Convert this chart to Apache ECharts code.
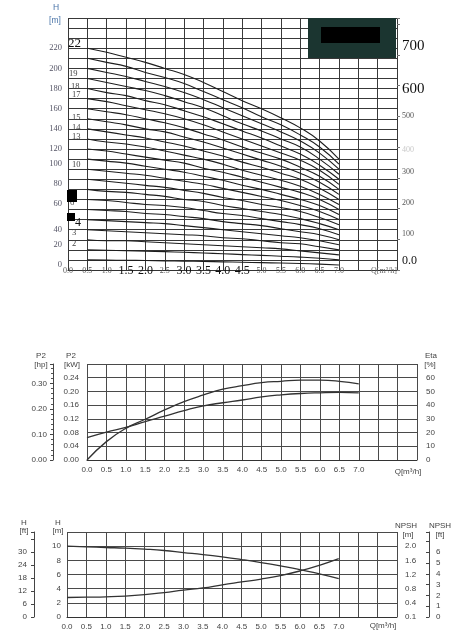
<!DOCTYPE html>
<html>
<head>
<meta charset="utf-8">
<script src="https://cdn.jsdelivr.net/npm/echarts@6/dist/echarts.min.js"></script>
<style>
html, body { margin: 0; padding: 0; background: #fff; }
#chart { width: 463px; height: 638px; }
</style>
</head>
<body>
<div id="chart"></div>
<script>
// 流量 Q [m³/h]
var qTop = [0.5, 1.0, 1.5, 2.0, 2.5, 3.0, 3.5, 4.0, 4.5, 5.0, 5.5, 6.0, 6.5, 7.0];
var qCurve = [0, 0.5, 1.0, 1.5, 2.0, 2.5, 3.0, 3.5, 4.0, 4.5, 5.0, 5.5, 6.0, 6.5, 7.0];

// 多级扬程曲线 H [m]，按级数
var h1 = [10.0, 9.8, 9.6, 9.4, 9.1, 8.8, 8.5, 8.1, 7.7, 7.3, 6.9, 6.4, 5.8, 5.0];
var h2 = [20.0, 19.6, 19.2, 18.7, 18.2, 17.6, 16.9, 16.1, 15.3, 14.5, 13.7, 12.8, 11.6, 10.0];
var h3 = [30, 29, 29, 28, 27, 26, 25, 24, 23, 22, 21, 19, 17, 15];
var h4 = [40, 39, 38, 37, 36, 35, 34, 32, 31, 29, 27, 26, 23, 20];
var h5 = [50, 49, 48, 47, 46, 44, 42, 40, 38, 36, 34, 32, 29, 25];
var h6 = [60, 59, 58, 56, 55, 53, 51, 48, 46, 44, 41, 38, 35, 30];
var h7 = [70, 69, 67, 65, 64, 62, 59, 56, 54, 51, 48, 45, 41, 35];
var h8 = [80, 78, 77, 75, 73, 70, 68, 64, 61, 58, 55, 51, 46, 40];
var h9 = [90, 88, 86, 84, 82, 79, 76, 72, 69, 65, 62, 58, 52, 45];
var h10 = [100, 98, 96, 94, 91, 88, 85, 81, 77, 73, 69, 64, 58, 50];
var h11 = [110, 108, 106, 103, 100, 97, 93, 89, 84, 80, 75, 70, 64, 55];
var h12 = [120, 118, 115, 112, 109, 106, 101, 97, 92, 87, 82, 77, 70, 60];
var h13 = [130, 127, 125, 122, 118, 114, 110, 105, 99, 94, 89, 83, 75, 65];
var h14 = [140, 137, 134, 131, 127, 123, 118, 113, 107, 102, 96, 90, 81, 70];
var h15 = [150, 147, 144, 140, 137, 132, 127, 121, 115, 109, 103, 96, 87, 75];
var h16 = [160, 157, 154, 150, 146, 141, 135, 129, 122, 116, 110, 102, 93, 80];
var h17 = [170, 167, 163, 159, 155, 150, 144, 137, 130, 123, 116, 109, 99, 85];
var h18 = [180, 176, 173, 168, 164, 158, 152, 145, 138, 131, 123, 115, 104, 90];
var h19 = [190, 186, 182, 178, 173, 167, 161, 153, 145, 138, 130, 122, 110, 95];
var h20 = [200, 196, 192, 187, 182, 176, 169, 161, 153, 145, 137, 128, 116, 100];
var h21 = [210, 206, 202, 196, 191, 185, 177, 169, 161, 152, 144, 134, 122, 105];
var h22 = [220, 216, 211, 206, 200, 194, 186, 177, 168, 160, 151, 141, 128, 110];
var stageCurves = [h1, h2, h3, h4, h5, h6, h7, h8, h9, h10, h11, h12, h13, h14, h15, h16, h17, h18, h19, h20, h21, h22];

// 功率 / 效率
var p2kW = [0.065, 0.081, 0.095, 0.112, 0.128, 0.144, 0.158, 0.167, 0.175, 0.184, 0.190, 0.194, 0.196, 0.197, 0.196];
var etaPct = [0, 13.4, 23.1, 29.7, 36.5, 42.6, 47.4, 51.6, 54.2, 56.4, 57.4, 58.2, 58.2, 57.4, 55.5];

// 单级扬程 / NPSH
var headM = [10.0, 9.91, 9.81, 9.72, 9.58, 9.39, 9.10, 8.82, 8.49, 8.11, 7.69, 7.22, 6.70, 6.08, 5.42];
var npshM = [0.55, 0.56, 0.57, 0.59, 0.63, 0.69, 0.76, 0.82, 0.91, 0.99, 1.07, 1.17, 1.30, 1.46, 1.65];

// 刻度标签
var bigQLabels = ['1.5', '2.0', '3.0', '3.5', '4.0', '4.5'];
var bigFtLabels = [600, 700];
var raisedHLabels = [0, 20, 60, 80, 100];

function pairs(xs, ys) {
    return xs.map(function (x, i) { return [x, ys[i]]; });
}

var serif = '"Liberation Serif", "DejaVu Serif", serif';
var sans = '"Liberation Sans", Arial, sans-serif';
var gridColor = '#4a4a4a';

function qAxis(gridIndex, top) {
    return {
        type: 'value', gridIndex: gridIndex, min: 0, max: 8.5, interval: 0.5,
        axisLine: { show: true, lineStyle: { color: '#333', width: 1 } },
        axisTick: { show: false },
        splitLine: { show: true, lineStyle: { color: top ? '#383838' : gridColor, width: 1 } },
        axisLabel: top ? {
            margin: 1, verticalAlign: 'middle', fontFamily: serif, fontSize: 8, color: '#555',
            formatter: function (v) {
                if (v > 7) return '';
                var s = v.toFixed(1);
                return bigQLabels.indexOf(s) >= 0 ? '{b|' + s + '}' : s;
            },
            rich: { b: { fontFamily: serif, fontSize: 12, color: '#111' } }
        } : {
            margin: 6, fontFamily: sans, fontSize: 8, color: '#444',
            formatter: function (v) { return v > 7 ? '' : v.toFixed(1); }
        }
    };
}

var series = [];
stageCurves.forEach(function (h, i) {
    series.push({
        name: (i + 1) + '级', type: 'line', xAxisIndex: 0, yAxisIndex: 0,
        data: pairs(qTop, h), smooth: true, symbol: 'none', silent: true,
        lineStyle: { color: '#1e1e1e', width: 1.1 }
    });
});
series.push({
    name: 'P2', type: 'line', xAxisIndex: 1, yAxisIndex: 2, data: pairs(qCurve, p2kW),
    smooth: true, symbol: 'none', lineStyle: { color: '#333', width: 1.3 }
});
series.push({
    name: 'Eta', type: 'line', xAxisIndex: 1, yAxisIndex: 4, data: pairs(qCurve, etaPct),
    smooth: true, symbol: 'none', lineStyle: { color: '#333', width: 1.3 }
});
series.push({
    name: 'H', type: 'line', xAxisIndex: 2, yAxisIndex: 5, data: pairs(qCurve, headM),
    smooth: true, symbol: 'none', lineStyle: { color: '#333', width: 1.3 }
});
series.push({
    name: 'NPSH', type: 'line', xAxisIndex: 2, yAxisIndex: 7, data: pairs(qCurve, npshM),
    smooth: true, symbol: 'none', lineStyle: { color: '#333', width: 1.3 }
});

function txt(text, x, y, opt) {
    opt = opt || {};
    return {
        type: 'text', z: 100,
        style: {
            text: text, x: x, y: y,
            fill: opt.color || '#444',
            fontSize: opt.size || 8,
            fontFamily: opt.font || sans,
            align: opt.align || 'center',
            verticalAlign: 'middle'
        }
    };
}
function box(x, y, w, h, color) {
    return { type: 'rect', z: 110, shape: { x: x, y: y, width: w, height: h }, style: { fill: color } };
}

var chart = echarts.init(document.getElementById('chart'), null, { renderer: 'canvas' });
var option = {
    backgroundColor: '#fff',
    animation: false,
    grid: [
        { left: 68, right: 66, top: 18, bottom: 368, outerBoundsMode: 'none' },
        { left: 87, right: 46, top: 364, bottom: 178, outerBoundsMode: 'none' },
        { left: 67, right: 66, top: 532, bottom: 21, outerBoundsMode: 'none' }
    ],
    xAxis: [qAxis(0, true), qAxis(1, false), qAxis(2, false)],
    yAxis: [
        // 0: 上图 H [m]
        {
            type: 'value', gridIndex: 0, min: 0, max: 250, interval: 10,
            axisLine: { show: false }, axisTick: { show: false },
            splitLine: { show: true, lineStyle: { color: '#383838', width: 1 } },
            axisLabel: {
                margin: 6, fontFamily: serif, fontSize: 8.5, color: '#556',
                formatter: function (v) {
                    if (v % 20 !== 0 || v > 220) return '';
                    return raisedHLabels.indexOf(v) >= 0 ? '{u|' + v + '}' : v;
                },
                rich: { u: { fontFamily: serif, fontSize: 8.5, color: '#556', padding: [0, 0, 11, 0] } }
            }
        },
        // 1: 上图 H [ft]
        {
            type: 'value', gridIndex: 0, position: 'right', min: 0, max: 250 / 0.3048, interval: 100,
            axisLine: { show: false }, axisTick: { show: true, length: 3, lineStyle: { color: '#777' } },
            splitLine: { show: false }, showMaxLabel: false,
            axisLabel: {
                margin: 5, verticalAlign: 'middle', fontFamily: serif, fontSize: 8, color: '#555',
                formatter: function (v) {
                    if (v === 0) return '{z|0.0}';
                    if (v === 600) return '{b6|600}';
                    if (v === 700) return '{b7|700}';
                    if (v === 400) return '{f|400}';
                    if (v === 500) return '{n|500}';
                    if (v > 700) return '';
                    return '{s|' + v + '}';
                },
                rich: {
                    z: { fontFamily: serif, fontSize: 12, color: '#111', padding: [0, 0, 18, 0] },
                    b6: { fontFamily: serif, fontSize: 15, color: '#111', padding: [6, 0, 0, 0] },
                    b7: { fontFamily: serif, fontSize: 15, color: '#111', padding: [0, 0, 18, 0] },
                    f: { fontFamily: serif, fontSize: 8, color: '#c8c8c8', padding: [6, 0, 0, 0] },
                    n: { fontFamily: serif, fontSize: 8, color: '#555' },
                    s: { fontFamily: serif, fontSize: 8, color: '#555', padding: [0, 0, 11, 0] }
                }
            }
        },
        // 2: 中图 P2 [kW]
        {
            type: 'value', gridIndex: 1, min: 0, max: 0.28, interval: 0.04,
            axisLine: { show: false }, axisTick: { show: false },
            splitLine: { show: true, lineStyle: { color: gridColor, width: 1 } },
            axisLabel: {
                margin: 8, fontFamily: sans, fontSize: 8, color: '#444',
                formatter: function (v) { return v > 0.25 ? '' : v.toFixed(2); }
            }
        },
        // 3: 中图 P2 [hp]
        {
            type: 'value', gridIndex: 1, position: 'left', offset: 34, min: 0, max: 0.28 / 0.7457, interval: 0.1,
            axisLine: { show: true, lineStyle: { color: '#444' } },
            axisTick: { show: true, length: 3, lineStyle: { color: '#444' } },
            minorTick: { show: true, splitNumber: 5, length: 2, lineStyle: { color: '#555' } },
            splitLine: { show: false }, minorSplitLine: { show: false },
            axisLabel: {
                margin: 6, fontFamily: sans, fontSize: 8, color: '#444',
                formatter: function (v) { return v > 0.31 ? '' : v.toFixed(2); }
            }
        },
        // 4: 中图 Eta [%]
        {
            type: 'value', gridIndex: 1, position: 'right', min: 0, max: 70, interval: 10,
            axisLine: { show: false }, axisTick: { show: false }, splitLine: { show: false },
            axisLabel: {
                margin: 9, fontFamily: sans, fontSize: 8, color: '#444',
                formatter: function (v) { return v > 60 ? '' : v; }
            }
        },
        // 5: 下图 H [m]
        {
            type: 'value', gridIndex: 2, min: 0, max: 12, interval: 2,
            axisLine: { show: false }, axisTick: { show: false },
            splitLine: { show: true, lineStyle: { color: gridColor, width: 1 } },
            axisLabel: {
                margin: 6, fontFamily: sans, fontSize: 8, color: '#444',
                formatter: function (v) { return v > 10 ? '' : v; }
            }
        },
        // 6: 下图 H [ft]
        {
            type: 'value', gridIndex: 2, position: 'left', offset: 33, min: 0, max: 12 / 0.3048, interval: 6,
            axisLine: { show: true, lineStyle: { color: '#444' } },
            axisTick: { show: true, length: 3, lineStyle: { color: '#444' } },
            splitLine: { show: false },
            axisLabel: {
                margin: 7, fontFamily: sans, fontSize: 8, color: '#444',
                formatter: function (v) { return v > 30 ? '' : v; }
            }
        },
        // 7: 下图 NPSH [m]
        {
            type: 'value', gridIndex: 2, position: 'right', min: 0, max: 2.4, interval: 0.4,
            axisLine: { show: false }, axisTick: { show: false }, splitLine: { show: false },
            axisLabel: {
                margin: 8, fontFamily: sans, fontSize: 8, color: '#444',
                formatter: function (v) { return v === 0 ? '0.1' : (v > 2.1 ? '' : v.toFixed(1)); }
            }
        },
        // 8: 下图 NPSH [ft]
        {
            type: 'value', gridIndex: 2, position: 'right', offset: 32, min: 0, max: 2.4 / 0.3048, interval: 1,
            axisLine: { show: true, lineStyle: { color: '#444' } },
            axisTick: { show: true, inside: true, length: 3, lineStyle: { color: '#444' } },
            splitLine: { show: false },
            axisLabel: {
                margin: 7, fontFamily: sans, fontSize: 8, color: '#444',
                formatter: function (v) { return v > 6 ? '' : v; }
            }
        }
    ],
    series: series,
    graphic: [
        // 上图标题
        txt('H', 56, 8, { color: '#4a74a8', size: 8.5 }),
        txt('[m]', 55, 21, { color: '#4a74a8', size: 8.5 }),
        txt('Q[m³/h]', 384, 271, { font: serif, color: '#666', size: 8 }),
        // 曲线级数标签
        txt('22', 68, 44, { font: serif, color: '#111', size: 13, align: 'left' }),
        txt('19', 69, 74, { font: serif, color: '#444', size: 8.5, align: 'left' }),
        txt('18', 71, 87, { font: serif, color: '#444', size: 8.5, align: 'left' }),
        txt('17', 72, 95, { font: serif, color: '#444', size: 8.5, align: 'left' }),
        txt('15', 72, 118, { font: serif, color: '#444', size: 8.5, align: 'left' }),
        txt('14', 72, 128, { font: serif, color: '#444', size: 8.5, align: 'left' }),
        txt('13', 72, 137, { font: serif, color: '#444', size: 8.5, align: 'left' }),
        txt('10', 72, 165, { font: serif, color: '#444', size: 8.5, align: 'left' }),
        txt('6', 70, 203, { font: serif, color: '#444', size: 8.5, align: 'left' }),
        txt('4', 75, 223, { font: serif, color: '#111', size: 12, align: 'left' }),
        txt('3', 72, 233, { font: serif, color: '#444', size: 8.5, align: 'left' }),
        txt('2', 72, 244, { font: serif, color: '#444', size: 8.5, align: 'left' }),
        box(67, 190, 10, 12, '#000'),
        box(67, 213, 8, 8, '#000'),
        box(308, 18, 88, 40, '#1b3530'),
        box(321, 27, 59, 16, '#000'),
        // 中图标题
        txt('P2', 41, 356), txt('[hp]', 41, 365),
        txt('P2', 71, 356), txt('[kW]', 72, 365),
        txt('Eta', 431, 356), txt('[%]', 430, 365),
        txt('Q[m³/h]', 408, 472),
        // 下图标题
        txt('H', 24, 523), txt('[ft]', 24, 531),
        txt('H', 58, 523), txt('[m]', 58, 531),
        txt('NPSH', 406, 526), txt('[m]', 408, 535),
        txt('NPSH', 440, 526), txt('[ft]', 440, 535),
        txt('Q[m³/h]', 383, 626)
    ]
};
chart.setOption(option);
</script>
</body>
</html>
